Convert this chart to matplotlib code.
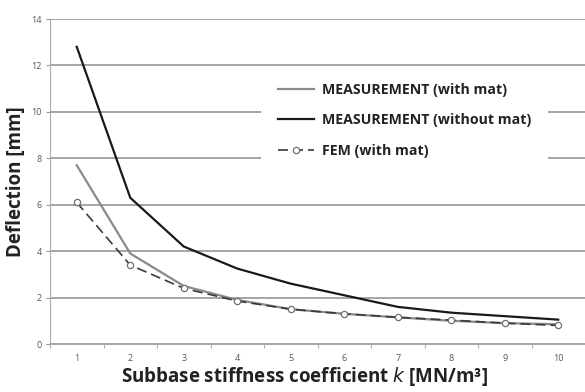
import numpy as np
import matplotlib.pyplot as plt

# Subbase stiffness coefficient k [MN/m3]
k = [1, 2, 3, 4, 5, 6, 7, 8, 9, 10]
meas_with_mat = [7.7, 3.9, 2.5, 1.9, 1.5, 1.3, 1.15, 1.0, 0.9, 0.85]
meas_without_mat = [12.8, 6.3, 4.2, 3.25, 2.6, 2.1, 1.6, 1.35, 1.2, 1.05]
fem_with_mat = [6.1, 3.4, 2.4, 1.85, 1.5, 1.3, 1.15, 1.03, 0.9, 0.8]
y_ticks = [0, 2, 4, 6, 8, 10, 12, 14]

plt.rcParams['font.family'] = ['Open Sans', 'DejaVu Sans']

fig = plt.figure(figsize=(5.85, 3.92), dpi=100)
ax = fig.add_axes([0.0855, 0.1224, 0.9145, 0.8291])

ax.plot(k, meas_with_mat, color='#8a8a8a', linewidth=1.6, label='MEASUREMENT (with mat)', zorder=3)
ax.plot(k, meas_without_mat, color='#1a1a1a', linewidth=1.6, label='MEASUREMENT (without mat)', zorder=4)
ax.plot(k, fem_with_mat, color='#3a3a3a', linewidth=1.2, linestyle=(0, (6, 3)),
        marker='o', markersize=4.5, markerfacecolor='white', markeredgecolor='#707070',
        markeredgewidth=0.9, label='FEM (with mat)', zorder=5)

ax.set_xlim(0.5, 10.5)
ax.set_ylim(0, 14)
ax.set_xticks(k)
ax.set_xticks(np.arange(0.5, 11, 1), minor=True)
ax.set_yticks(y_ticks)
ax.tick_params(axis='x', which='major', length=0, labelsize=6.5, labelcolor='#555555', pad=7)
ax.tick_params(axis='x', which='minor', length=3, color='#999999', direction='out')
ax.tick_params(axis='y', length=3, color='#999999', labelsize=6.5, labelcolor='#555555', pad=3)

ax.grid(axis='y', color='#8c8c8c', linewidth=1.1)
ax.set_axisbelow(True)
for side in ['top', 'right']:
    ax.spines[side].set_visible(False)
ax.spines['left'].set_color('#aaaaaa')
ax.spines['bottom'].set_color('#aaaaaa')
ax.spines['left'].set_linewidth(0.8)
ax.spines['bottom'].set_linewidth(0.8)

ax.set_ylabel('Deflection [mm]', fontsize=13.5, fontweight='bold', color='#222222', labelpad=4)
ax.set_xlabel('Subbase stiffness coefficient $\\mathit{k}$ [MN/m³]', fontsize=13.5,
              fontweight='bold', color='#222222')
ax.xaxis.set_label_coords(0.475, -0.066)

leg = ax.legend(loc='center left', bbox_to_anchor=(0.395, 0.688), borderaxespad=0,
                frameon=True, facecolor='white', edgecolor='none', framealpha=1,
                fontsize=10.2, labelspacing=1.15, handlelength=2.5, handletextpad=0.55,
                borderpad=1.2)
for t in leg.get_texts():
    t.set_fontweight('bold')
    t.set_color('#222222')

fig.savefig('out.png', dpi=100)
